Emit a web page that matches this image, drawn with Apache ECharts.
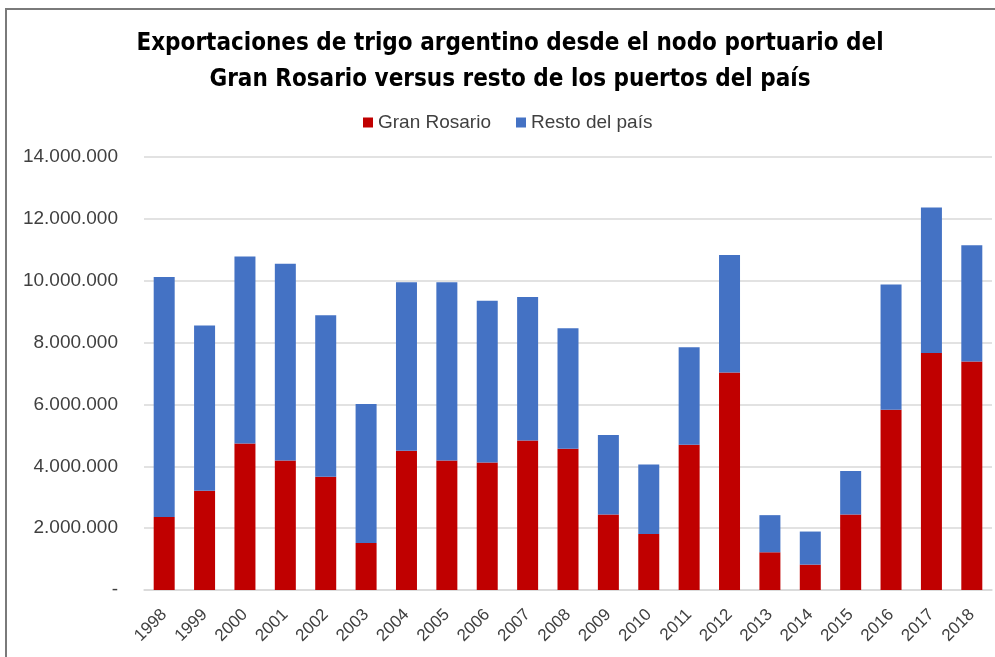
<!DOCTYPE html>
<html>
<head>
<meta charset="utf-8">
<script src="https://cdn.jsdelivr.net/npm/echarts@6/dist/echarts.min.js"></script>
<style>
  html, body { margin: 0; padding: 0; background: #fff; }
  #chart { position: absolute; left: 0; top: 0; width: 995px; height: 657px; }
  #frame { position: absolute; left: 5px; top: 8px; width: 1000px; height: 660px;
           border-top: 2px solid #7a7a7a; border-left: 2px solid #7a7a7a; pointer-events: none; }
</style>
</head>
<body>
<div id="chart"></div>
<div id="frame"></div>
<script>
// años (categorías)
const years = ['1998', '1999', '2000', '2001', '2002', '2003', '2004', '2005', '2006', '2007',
  '2008', '2009', '2010', '2011', '2012', '2013', '2014', '2015', '2016', '2017', '2018']
// toneladas exportadas desde el Gran Rosario
const granRosario = [2360000, 3210000, 4740000, 4190000, 3660000, 1520000, 4500000, 4190000, 4120000, 4830000,
  4570000, 2440000, 1810000, 4700000, 7030000, 1220000, 820000, 2440000, 5830000, 7660000, 7390000]
// toneladas exportadas desde el resto del país
const restoPais = [7760000, 5340000, 6040000, 6360000, 5220000, 4490000, 5450000, 5760000, 5230000, 4640000,
  3890000, 2570000, 2250000, 3150000, 3800000, 1200000, 1070000, 1410000, 4050000, 4710000, 3760000]

const textColor = '#404040'

const chart = echarts.init(document.getElementById('chart'))

chart.setOption({
  backgroundColor: '#fff',
  animation: false,
  title: {
    text: 'Exportaciones de trigo argentino desde el nodo portuario del\nGran Rosario versus resto de los puertos del país',
    left: 505,
    top: 21,
    textAlign: 'center',
    textStyle: {
      fontFamily: 'DejaVu Sans Condensed, sans-serif',
      fontWeight: 'bold',
      fontSize: 24,
      lineHeight: 36,
      color: '#000'
    }
  },
  legend: {
    top: 108,
    left: 358,
    itemWidth: 10,
    itemHeight: 10,
    itemGap: 25,
    icon: 'rect',
    textStyle: {
      fontFamily: 'Liberation Sans, sans-serif',
      fontSize: 19,
      color: textColor
    },
    data: ['Gran Rosario', 'Resto del país']
  },
  grid: {
    left: 144,
    right: 3,
    top: 157,
    bottom: 67
  },
  xAxis: {
    type: 'category',
    data: years,
    axisLine: { lineStyle: { color: '#d9d9d9', width: 1.5 } },
    axisTick: { show: false },
    axisLabel: {
      rotate: 45,
      interval: 0,
      margin: 22,
      fontFamily: 'Liberation Sans, sans-serif',
      fontSize: 17,
      color: textColor
    }
  },
  yAxis: {
    type: 'value',
    min: 0,
    max: 14000000,
    interval: 2000000,
    splitLine: { lineStyle: { color: '#d9d9d9', width: 1.5 } },
    axisLabel: {
      margin: 26,
      fontFamily: 'Liberation Sans, sans-serif',
      fontSize: 19,
      color: textColor,
      formatter: (v) => v === 0 ? '-' : v.toString().replace(/\B(?=(\d{3})+(?!\d))/g, '.')
    }
  },
  series: [
    {
      name: 'Gran Rosario',
      type: 'bar',
      stack: 'total',
      barWidth: 21,
      itemStyle: { color: '#c00000' },
      data: granRosario
    },
    {
      name: 'Resto del país',
      type: 'bar',
      stack: 'total',
      barWidth: 21,
      itemStyle: { color: '#4472c4' },
      data: restoPais
    }
  ]
})
</script>
</body>
</html>
